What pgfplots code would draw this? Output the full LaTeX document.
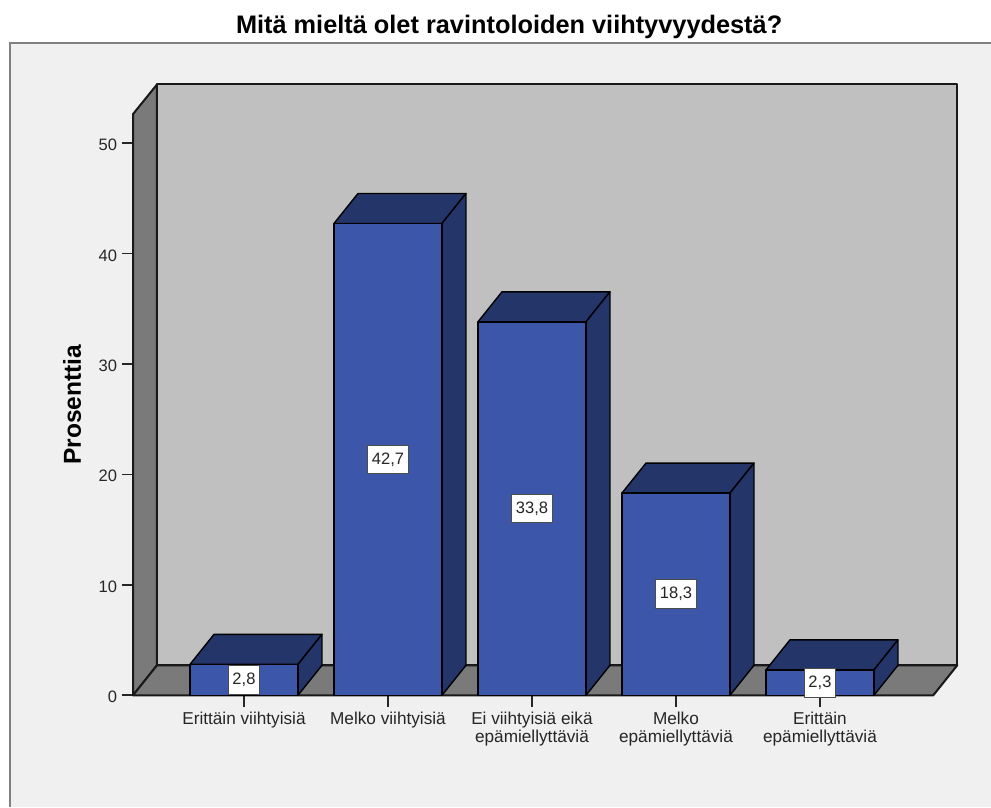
\documentclass[border=0pt]{standalone}
\usepackage{pgfplots}
\pgfplotsset{compat=1.18}
\usepackage{fontspec}
\setmainfont{Liberation Sans}
\definecolor{panel}{HTML}{F0F0F0}
\definecolor{panelline}{HTML}{808080}
\definecolor{wall}{HTML}{C0C0C0}
\definecolor{floorgrey}{HTML}{7A7A7A}
\definecolor{barfront}{HTML}{3C57A9}
\definecolor{barshade}{HTML}{24356A}
\begin{document}
\begin{tikzpicture}[x=0.75pt,y=0.75pt]
% page and chart panel
\useasboundingbox (0,0) rectangle (991,807);
\fill[white] (0,0) rectangle (991,807);
\fill[panel] (10,0) rectangle (991,764);
\draw[panelline,line width=1.5pt] (10,0) -- (10,764) -- (991,764);
\begin{axis}[
  at={(99.75pt,83.78pt)}, anchor=south west,
  scale only axis, width=600.2pt, height=435.9pt,
  xmin=-0.7708, xmax=4.787, ymin=0, ymax=52.6,
  clip=false,
  axis lines=left,
  axis line style={-, black, line width=1.3pt},
  tick style={black!85, line width=1.2pt},
  tick align=outside,
  major tick length=8.5pt,
  xtick={0,1,2,3,4},
  xticklabels={Erittäin viihtyisiä, Melko viihtyisiä,
    {Ei viihtyisiä eikä\\epämiellyttäviä},
    {Melko\\epämiellyttäviä}, {Erittäin\\epämiellyttäviä}},
  x tick label style={align=center, font=\fontsize{12.9pt}{13.5pt}\selectfont, text=black!85, yshift=-0.75pt},
  ytick={0,10,20,30,40,50},
  y tick label style={font=\fontsize{12.4pt}{14pt}\selectfont, text=black!85, yshift=-1.5pt},
  /pgf/number format/assume math mode=true,
  title={Mitä mieltä olet ravintoloiden viihtyvyydestä?},
  title style={at={(axis description cs:0.47,1.1355)}, anchor=center,
    font=\fontsize{19pt}{22pt}\selectfont\bfseries},
  ylabel={Prosenttia},
  y label style={at={(axis description cs:-0.076,0.5)}, anchor=center,
    font=\fontsize{18.4pt}{22pt}\selectfont\bfseries},
  every axis plot/.append style={mark=none, line join=round},
]
% left wall, back wall and floor
\addplot[fill=floorgrey, draw=black!90, line width=1.5pt] coordinates
  {(-0.7708,0) (-0.6042,2.715) (-0.6042,55.28) (-0.7708,52.6)} -- cycle;
\addplot[fill=wall, draw=black!90, line width=1.5pt] coordinates
  {(-0.6042,2.715) (4.9537,2.715) (4.9537,55.28) (-0.6042,55.28)} -- cycle;
\addplot[fill=floorgrey, draw=black!90, line width=1.5pt] coordinates
  {(-0.7708,0) (4.787,0) (4.9537,2.715) (-0.6042,2.715)} -- cycle;

% tops and right sides of the bars
\addplot[fill=barshade, draw=black, line width=1.05pt] coordinates
  {(-0.375,2.8) (0.375,2.8) (0.5417,5.515) (-0.2083,5.515)} -- cycle;
\addplot[fill=barshade, draw=black, line width=1.05pt] coordinates
  {(0.375,0) (0.5417,2.715) (0.5417,5.515) (0.375,2.8)} -- cycle;
\addplot[fill=barshade, draw=black, line width=1.05pt] coordinates
  {(0.625,42.7) (1.375,42.7) (1.5417,45.415) (0.7917,45.415)} -- cycle;
\addplot[fill=barshade, draw=black, line width=1.05pt] coordinates
  {(1.375,0) (1.5417,2.715) (1.5417,45.415) (1.375,42.7)} -- cycle;
\addplot[fill=barshade, draw=black, line width=1.05pt] coordinates
  {(1.625,33.8) (2.375,33.8) (2.5417,36.515) (1.7917,36.515)} -- cycle;
\addplot[fill=barshade, draw=black, line width=1.05pt] coordinates
  {(2.375,0) (2.5417,2.715) (2.5417,36.515) (2.375,33.8)} -- cycle;
\addplot[fill=barshade, draw=black, line width=1.05pt] coordinates
  {(2.625,18.3) (3.375,18.3) (3.5417,21.015) (2.7917,21.015)} -- cycle;
\addplot[fill=barshade, draw=black, line width=1.05pt] coordinates
  {(3.375,0) (3.5417,2.715) (3.5417,21.015) (3.375,18.3)} -- cycle;
\addplot[fill=barshade, draw=black, line width=1.05pt] coordinates
  {(3.625,2.3) (4.375,2.3) (4.5417,5.015) (3.7917,5.015)} -- cycle;
\addplot[fill=barshade, draw=black, line width=1.05pt] coordinates
  {(4.375,0) (4.5417,2.715) (4.5417,5.015) (4.375,2.3)} -- cycle;

% front faces
\addplot[ybar, bar width=0.75, fill=barfront, draw=black, line width=1.05pt] coordinates
  {(0,2.8) (1,42.7) (2,33.8) (3,18.3) (4,2.3)};

% percentage labels at mid-height of each bar
\addplot[only marks, point meta=explicit symbolic,
  nodes near coords,
  every node near coord/.append style={anchor=center, fill=white, draw=black!70,
    line width=0.6pt, inner xsep=3pt, inner ysep=0pt, minimum height=21.5pt,
    font=\fontsize{12.4pt}{14pt}\selectfont, text=black!85}]
  table[meta=lab] {
    x y lab
    0 1.4 2,8
    1 21.35 42,7
    2 16.9 33,8
    3 9.15 18,3
    4 1.15 2,3
  };
\end{axis}
\end{tikzpicture}
\end{document}
